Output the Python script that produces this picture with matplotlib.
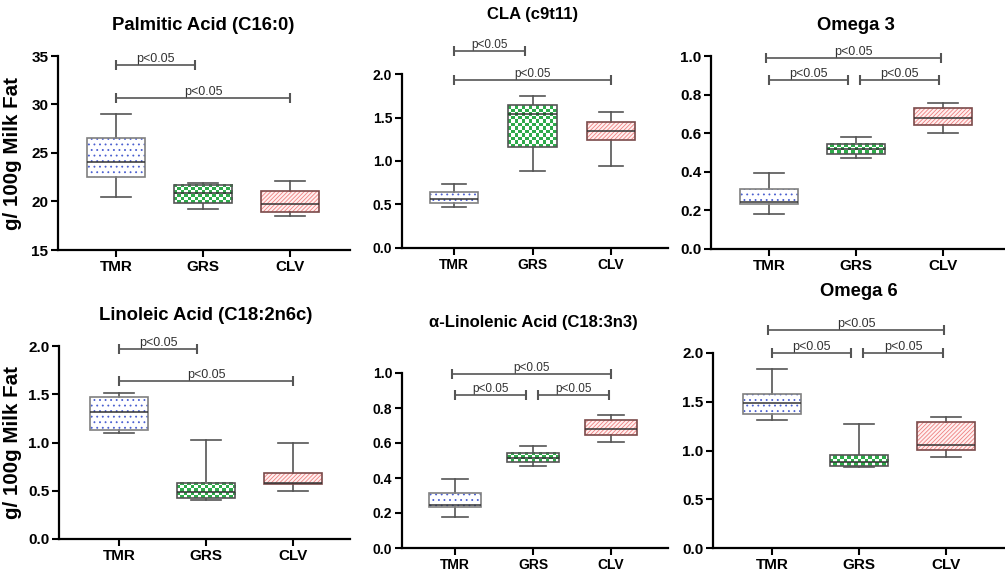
import numpy as np
import matplotlib
matplotlib.use('Agg')
import matplotlib.pyplot as plt
from matplotlib.colors import ListedColormap
from matplotlib.patches import PathPatch

plt.rcParams['font.family'] = ['Liberation Sans', 'DejaVu Sans']
plt.rcParams['hatch.linewidth'] = 0.6

groups = ['TMR', 'GRS', 'CLV']

# five-number summaries per group: whisker low, Q1, median, Q3, whisker high
palmitic = [[20.5, 22.55, 24.1, 26.55, 29.0],
            [19.2, 19.8, 20.85, 21.75, 21.95],
            [18.55, 18.9, 19.75, 21.1, 22.15]]
cla = [[0.475, 0.515, 0.56, 0.645, 0.73],
       [0.89, 1.165, 1.535, 1.645, 1.75],
       [0.94, 1.24, 1.35, 1.45, 1.565]]
omega3 = [[0.18, 0.233, 0.245, 0.312, 0.395],
          [0.47, 0.49, 0.517, 0.545, 0.582],
          [0.60, 0.641, 0.677, 0.729, 0.758]]
linoleic = [[1.10, 1.126, 1.32, 1.475, 1.515],
            [0.405, 0.42, 0.487, 0.583, 1.025],
            [0.497, 0.567, 0.577, 0.68, 1.0]]
linolenic = [[0.18, 0.237, 0.243, 0.314, 0.396],
             [0.47, 0.49, 0.516, 0.545, 0.585],
             [0.604, 0.646, 0.68, 0.733, 0.762]]
omega6 = [[1.316, 1.374, 1.49, 1.58, 1.84],
          [0.83, 0.845, 0.882, 0.957, 1.275],
          [0.93, 1.002, 1.056, 1.29, 1.347]]

# significance brackets: (from, to, height)
palmitic_sig = [(0, 0.91, 34.1), (0, 2, 30.7)]
cla_sig = [(0, 0.91, 2.26), (0, 2, 1.93)]
omega3_sig = [(-0.04, 1.98, 0.99), (0, 0.91, 0.875), (1.05, 1.95, 0.875)]
linoleic_sig = [(0, 0.9, 1.97), (0, 2, 1.635)]
linolenic_sig = [(-0.04, 2.0, 0.995), (0, 0.91, 0.877), (1.07, 1.97, 0.877)]
omega6_sig = [(-0.05, 1.98, 2.235), (0, 0.91, 2.0), (1.05, 1.96, 2.0)]

W, H = 1005, 571
fig = plt.figure(figsize=(W / 100, H / 100), dpi=100)

# panel layout in pixels: left, top, right, bottom, x of first group, group spacing
panels = [
    ('Palmitic Acid (C16:0)', palmitic, palmitic_sig, (58, 56, 350, 250), 116, 87, (15, 35), np.arange(15, 36, 5), 25, True),
    ('CLA (c9t11)', cla, cla_sig, (402, 74, 668, 248), 454, 78.5, (0, 2), np.arange(0, 2.01, 0.5), 15, False),
    ('Omega 3', omega3, omega3_sig, (711, 56, 1005, 249), 769, 87, (0, 1), np.arange(0, 1.01, 0.2), 25, False),
    ('Linoleic Acid (C18:2n6c)', linoleic, linoleic_sig, (59, 346, 350, 539), 119, 87, (0, 2), np.arange(0, 2.01, 0.5), 315, True),
    ('\u03b1-Linolenic Acid (C18:3n3)', linolenic, linolenic_sig, (402, 373, 668, 548), 455, 78, (0, 1), np.arange(0, 1.01, 0.2), 323, False),
    ('Omega 6', omega6, omega6_sig, (713, 353, 1005, 548), 772, 87, (0, 2), np.arange(0, 2.01, 0.5), 292, False),
]

green = '#2eaa4a'
cell = 3.4  # checker cell size in pixels

for k, (title, stats, sig, rect, x0px, sp, ylim, yticks, title_y, ylab) in enumerate(panels):
    left, top, right, bottom = rect
    ax = fig.add_axes([left / W, 1 - bottom / H, (right - left) / W, (bottom - top) / H])
    middle = k in (1, 4)
    tick_fs = 10 if middle else 11
    cat_fs = 10 if middle else 11
    title_fs = 12 if middle else 13.3
    p_fs = 8.5 if middle else 9
    width = 0.62 if k == 1 else 0.67

    xlim = ((left - x0px) / sp, (right - x0px) / sp)
    px_x = (right - left) / (xlim[1] - xlim[0])
    px_y = (bottom - top) / (ylim[1] - ylim[0])

    bstats = [dict(whislo=s[0], q1=s[1], med=s[2], q3=s[3], whishi=s[4], label=g)
              for s, g in zip(stats, groups)]
    bp = ax.bxp(bstats, positions=range(3), widths=width, patch_artist=True, showfliers=False,
                whiskerprops=dict(color='#555555', lw=1.2),
                capprops=dict(color='#555555', lw=1.2),
                medianprops=dict(color='#333333', lw=1.1, zorder=6),
                boxprops=dict(lw=0))

    for i, box in enumerate(bp['boxes']):
        if i == 0:
            box.set_facecolor('white')
            box.set_edgecolor('#4a5fd0')
            box.set_hatch('...')
            edge = '#808080'
        elif i == 1:
            box.set_facecolor('none')
            box.set_edgecolor('none')
            s = stats[i]
            nx = max(1, int(round(width * px_x / cell)))
            ny = max(1, int(round((s[3] - s[1]) * px_y / cell)))
            board = np.indices((ny, nx)).sum(axis=0) % 2
            ax.imshow(board, cmap=ListedColormap(['white', green]), origin='lower',
                      extent=(i - width / 2, i + width / 2, s[1], s[3]),
                      aspect='auto', interpolation='nearest', zorder=2)
            edge = '#555555'
        else:
            box.set_facecolor('#fff0f0')
            box.set_edgecolor('#ee8080')
            box.set_hatch('////////')
            edge = '#7a4a4a'
        ax.add_patch(PathPatch(box.get_path(), facecolor='none', edgecolor=edge,
                               lw=1.2, zorder=5))

    # significance brackets
    for a, b, y in sig:
        ax.plot([a, b], [y, y], color='#555555', lw=1.2, marker='|', markersize=7,
                markeredgewidth=1.5, clip_on=False, zorder=6)
        ax.text((a + b) / 2, y, 'p<0.05', ha='center', va='bottom', fontsize=p_fs,
                color='#333333', clip_on=False)

    ax.set_xlim(*xlim)
    ax.set_ylim(*ylim)
    ax.set_xticks(range(3))
    ax.set_xticklabels(groups, fontsize=cat_fs, fontweight='bold')
    ax.set_yticks(yticks)
    if ylim[1] > 5:
        ax.set_yticklabels([f'{v:.0f}' for v in yticks])
    else:
        ax.set_yticklabels([f'{v:.1f}' for v in yticks])
    for lab in ax.get_yticklabels():
        lab.set_fontsize(tick_fs)
        lab.set_fontweight('bold')
    ax.tick_params(direction='out', length=5, width=1.5, pad=2)
    for side in ('top', 'right'):
        ax.spines[side].set_visible(False)
    for side in ('left', 'bottom'):
        ax.spines[side].set_linewidth(1.6)

    ty = (bottom - title_y) / (bottom - top)
    ax.text(1, ty, title, transform=ax.get_xaxis_transform(), ha='center', va='center',
            fontsize=title_fs, fontweight='bold')

    if ylab:
        ax.set_ylabel('g/ 100g Milk Fat', fontsize=14.8, fontweight='bold')
        ax.yaxis.set_label_coords((22 - left) / (right - left), 0.5)

fig.savefig('out.png', dpi=100)
